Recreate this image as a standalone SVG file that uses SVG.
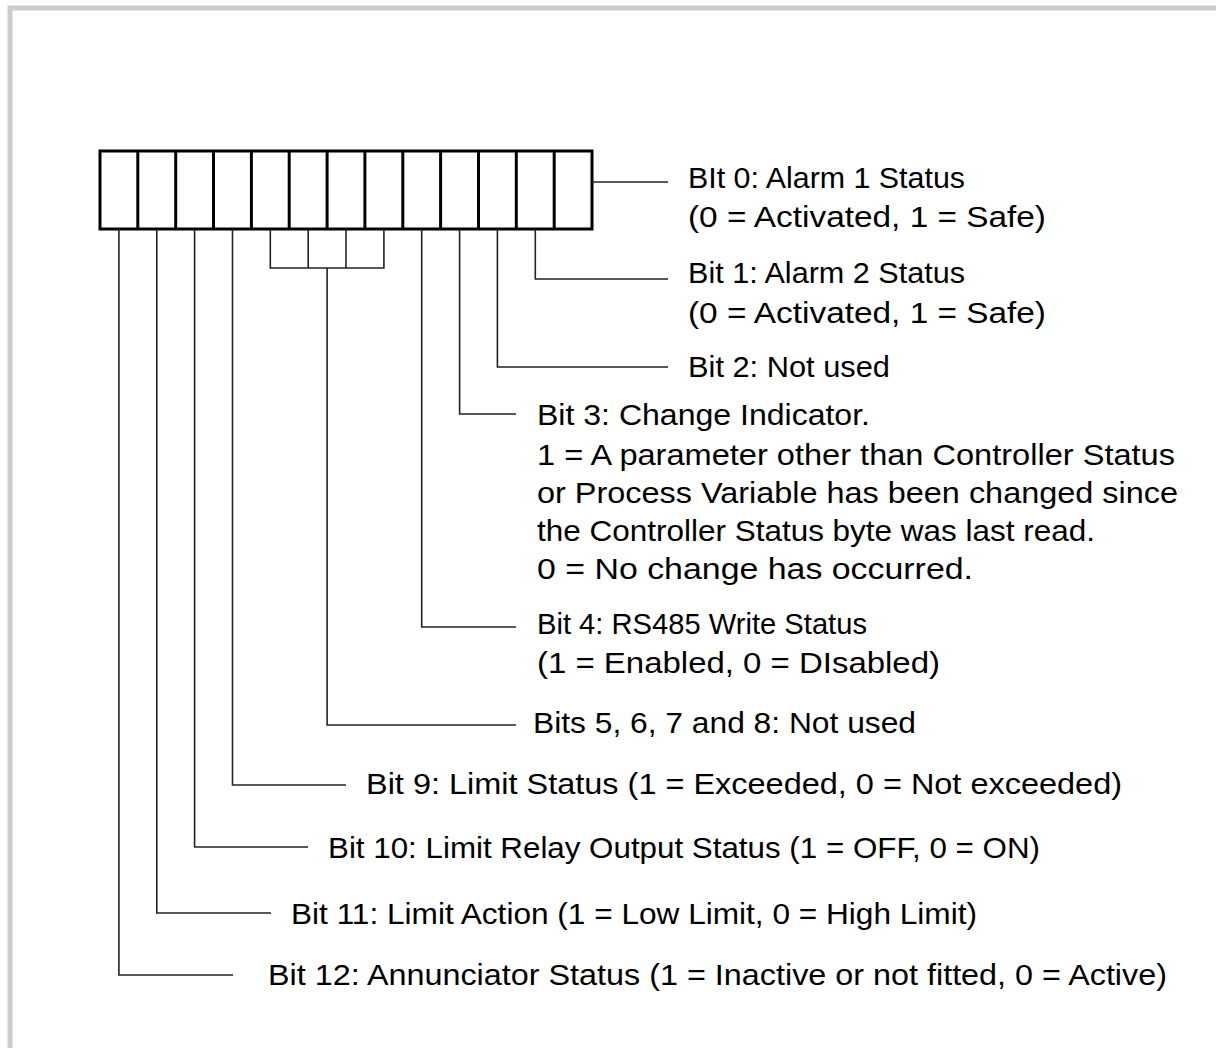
<svg xmlns="http://www.w3.org/2000/svg" width="1216" height="1048" viewBox="0 0 1216 1048">
<style>
.frame{fill:none;stroke:#cccccc;stroke-width:5}
.cell{fill:#fff;stroke:#000;stroke-width:3}
.div{stroke:#000;stroke-width:3}
.conn{fill:none;stroke:#222;stroke-width:1.6}
text{font-family:"Liberation Sans",Arial,sans-serif;font-size:29px;fill:#000}
</style>
<rect width="1216" height="1048" fill="#fff"/>
<rect class="frame" x="10" y="8" width="1230" height="1060"/>
<g id="register">
<rect class="cell" x="100" y="151" width="492" height="78"/>
<line class="div" x1="137.8" y1="151" x2="137.8" y2="229"/>
<line class="div" x1="175.7" y1="151" x2="175.7" y2="229"/>
<line class="div" x1="213.5" y1="151" x2="213.5" y2="229"/>
<line class="div" x1="251.4" y1="151" x2="251.4" y2="229"/>
<line class="div" x1="289.2" y1="151" x2="289.2" y2="229"/>
<line class="div" x1="327.1" y1="151" x2="327.1" y2="229"/>
<line class="div" x1="364.9" y1="151" x2="364.9" y2="229"/>
<line class="div" x1="402.8" y1="151" x2="402.8" y2="229"/>
<line class="div" x1="440.6" y1="151" x2="440.6" y2="229"/>
<line class="div" x1="478.5" y1="151" x2="478.5" y2="229"/>
<line class="div" x1="516.3" y1="151" x2="516.3" y2="229"/>
<line class="div" x1="554.2" y1="151" x2="554.2" y2="229"/>
</g>
<g id="connectors">
<polyline class="conn" points="592,182 668,182"/>
<polyline class="conn" points="535.3,229 535.3,279 668,279"/>
<polyline class="conn" points="497.4,229 497.4,367 668,367"/>
<polyline class="conn" points="459.6,229 459.6,414 516,414"/>
<polyline class="conn" points="421.7,229 421.7,627 516,627"/>
<polyline class="conn" points="270.3,229 270.3,268 383.9,268 383.9,229"/>
<polyline class="conn" points="308.2,229 308.2,268"/>
<polyline class="conn" points="346,229 346,268"/>
<polyline class="conn" points="327.1,268 327.1,725 516,725"/>
<polyline class="conn" points="232.5,229 232.5,785 346,785"/>
<polyline class="conn" points="194.6,229 194.6,847 308,847"/>
<polyline class="conn" points="156.8,229 156.8,913 271,913"/>
<polyline class="conn" points="118.9,229 118.9,975 233,975"/>
</g>
<g id="bit0">
<text x="688" y="188" textLength="277" lengthAdjust="spacingAndGlyphs">BIt 0: Alarm 1 Status</text>
<text x="688" y="227" textLength="358" lengthAdjust="spacingAndGlyphs">(0 = Activated, 1 = Safe)</text>
</g>
<g id="bit1">
<text x="688" y="283" textLength="277" lengthAdjust="spacingAndGlyphs">Bit 1: Alarm 2 Status</text>
<text x="688" y="323" textLength="358" lengthAdjust="spacingAndGlyphs">(0 = Activated, 1 = Safe)</text>
</g>
<g id="bit2">
<text x="688" y="377" textLength="202" lengthAdjust="spacingAndGlyphs">Bit 2: Not used</text>
</g>
<g id="bit3">
<text x="537" y="425" textLength="333" lengthAdjust="spacingAndGlyphs">Bit 3: Change Indicator.</text>
<text x="537" y="465" textLength="638" lengthAdjust="spacingAndGlyphs">1 = A parameter other than Controller Status</text>
<text x="537" y="503" textLength="641" lengthAdjust="spacingAndGlyphs">or Process Variable has been changed since</text>
<text x="537" y="541" textLength="558" lengthAdjust="spacingAndGlyphs">the Controller Status byte was last read.</text>
<text x="537" y="579" textLength="436" lengthAdjust="spacingAndGlyphs">0 = No change has occurred.</text>
</g>
<g id="bit4">
<text x="537" y="634" textLength="330" lengthAdjust="spacingAndGlyphs">Bit 4: RS485 Write Status</text>
<text x="537" y="673" textLength="403" lengthAdjust="spacingAndGlyphs">(1 = Enabled, 0 = DIsabled)</text>
</g>
<g id="bits5-8">
<text x="533" y="733" textLength="383" lengthAdjust="spacingAndGlyphs">Bits 5, 6, 7 and 8: Not used</text>
</g>
<g id="bit9">
<text x="366" y="794" textLength="756" lengthAdjust="spacingAndGlyphs">Bit 9: Limit Status (1 = Exceeded, 0 = Not exceeded)</text>
</g>
<g id="bit10">
<text x="328" y="858" textLength="712" lengthAdjust="spacingAndGlyphs">Bit 10: Limit Relay Output Status (1 = OFF, 0 = ON)</text>
</g>
<g id="bit11">
<text x="291" y="924" textLength="686" lengthAdjust="spacingAndGlyphs">Bit 11: Limit Action (1 = Low Limit, 0 = High Limit)</text>
</g>
<g id="bit12">
<text x="268" y="985" textLength="899" lengthAdjust="spacingAndGlyphs">Bit 12: Annunciator Status (1 = Inactive or not fitted, 0 = Active)</text>
</g>
</svg>
